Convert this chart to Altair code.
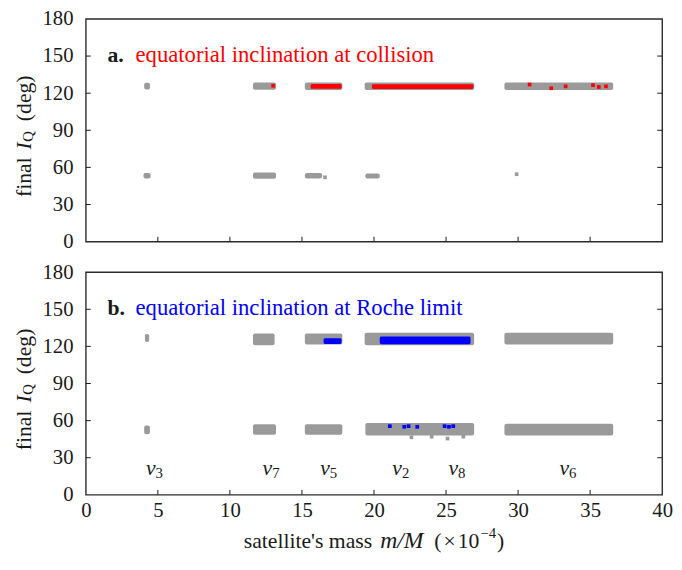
import altair as alt
import pandas as pd

W, H = 585, 226
FONT = "Liberation Serif"
GRAY = "#9a9a9a"
INK = "#1a1a1a"

# ---------------- axis ticks ----------------
x_ticks = [0, 5, 10, 15, 20, 25, 30, 35, 40]
y_ticks = [0, 30, 60, 90, 120, 150, 180]
x_inner_ticks = [5, 10, 15, 20, 25, 30, 35]
y_inner_ticks = [30, 60, 90, 120, 150]

# ---------------- panel a: inclination at collision ----------------
a_gray_x0 = [4.05, 11.6, 15.2, 19.35, 29.05, 4.0, 11.6, 15.2, 19.4]
a_gray_x1 = [4.45, 13.2, 17.8, 26.95, 36.6, 4.5, 13.2, 16.4, 20.4]
a_gray_y0 = [123.0, 122.8, 122.6, 122.6, 122.6, 51.0, 50.8, 51.0, 51.0]
a_gray_y1 = [128.5, 128.6, 128.7, 128.7, 128.7, 55.5, 55.8, 55.5, 55.0]
a_gray_dot_x = [16.6, 29.9]
a_gray_dot_y = [52.0, 54.5]
a_red_x0 = [15.6, 19.85]
a_red_x1 = [17.75, 26.9]
a_red_y0 = [123.5, 123.3]
a_red_y1 = [127.5, 127.3]
a_red_dot_x = [13.0, 30.8, 32.3, 33.3, 35.2, 35.6, 36.1]
a_red_dot_y = [126.0, 127.0, 124.0, 125.5, 126.5, 125.0, 125.5]

# ---------------- panel b: inclination at Roche limit ----------------
b_gray_x0 = [4.1, 11.6, 15.2, 19.35, 29.05, 4.05, 11.6, 15.2, 19.4, 29.05]
b_gray_x1 = [4.4, 13.1, 17.8, 26.95, 36.6, 4.45, 13.2, 17.8, 26.95, 36.6]
b_gray_y0 = [123.5, 121.0, 121.5, 121.0, 121.5, 49.0, 48.5, 48.5, 48.0, 48.0]
b_gray_y1 = [130.0, 130.5, 130.5, 131.0, 131.0, 56.0, 57.0, 57.0, 58.0, 57.5]
b_gray_dot_x = [22.6, 24.0, 25.1, 26.2]
b_gray_dot_y = [46.5, 47.0, 45.5, 47.0]
b_blue_x0 = [16.5, 20.4]
b_blue_x1 = [17.75, 26.7]
b_blue_y0 = [122.0, 121.8]
b_blue_y1 = [126.5, 128.0]
b_blue_dot_x = [21.1, 22.1, 22.4, 23.0, 24.9, 25.2, 25.5]
b_blue_dot_y = [55.5, 55.0, 55.5, 55.0, 55.5, 55.0, 55.5]

# ---------------- annotations ----------------
nu_x = [4.7, 12.8, 16.8, 21.8, 25.7, 33.4]
nu_sub = ["3", "7", "5", "2", "8", "6"]
nu_y = [22, 22, 22, 22, 22, 22]
tag_x = [1.5, 3.45]
tag_y = [151, 151]
panel_tags = ["a.", "b."]
panel_captions = ["equatorial inclination at collision",
                  "equatorial inclination at Roche limit"]
panel_colors = ["#ff0000", "#0000ff"]

# ---------------- text width helper (Times metrics) ----------------
ROMAN = {" ": 250, "a": 444, "b": 500, "c": 444, "d": 500, "e": 444, "f": 333,
         "g": 500, "h": 500, "i": 278, "l": 278, "m": 778, "n": 500, "o": 500,
         "q": 500, "r": 333, "s": 389, "t": 278, "u": 500, "(": 333, ")": 333,
         "'": 180, "×": 564, "−": 564, "Q": 722, ".": 250}
for d in "0123456789":
    ROMAN[d] = 500
ITALIC = {"m": 722, "/": 278, "M": 833, "I": 333}


def tw(s, size, italic=False):
    tab = ITALIC if italic else ROMAN
    return sum(tab.get(ch, ROMAN.get(ch, 500)) for ch in s) * size / 1000.0


XS = alt.Scale(domain=[0, 40], nice=False, zero=False)
YS = alt.Scale(domain=[0, 180], nice=False, zero=False)


def y_axis():
    return alt.Axis(values=y_ticks, title=None, ticks=False, domain=False, grid=False,
                    labelFont=FONT, labelFontSize=21, labelColor=INK, labelPadding=13)


def x_axis(show):
    if show:
        return alt.Axis(values=x_ticks, title=None, ticks=False, domain=False, grid=False,
                        labelFont=FONT, labelFontSize=21, labelColor=INK, labelPadding=5,
                        labelFlush=False, format="d")
    return alt.Axis(values=x_ticks, labels=False, ticks=False, domain=False, grid=False,
                    title=None)


def text_piece(txt, x, y, size, italic=False, angle=0, align="left", baseline="middle"):
    kw = dict(align=align, baseline=baseline, font=FONT, fontSize=size, color=INK)
    if italic:
        kw["fontStyle"] = "italic"
    if angle:
        kw["angle"] = angle
    return alt.Chart(pd.DataFrame({"t": [txt]})).mark_text(**kw).encode(
        x=alt.value(x), y=alt.value(y), text="t:N")


def y_title_layers():
    # reading bottom-to-top, angle 270
    pieces = [("final", 22, False, 0, 0), ("I", 22, True, 0, 8), ("Q", 15, False, 4, 0.5),
              ("(deg)", 22, False, 0, 10)]
    total = sum(tw(p[0], p[1], p[2]) + p[4] for p in pieces)
    y = H / 2 + 6 + total / 2
    out = []
    for txt, size, it, sx, gap in pieces:
        y -= gap
        out.append(text_piece(txt, -63 + sx, y, size, italic=it, angle=270))
        y -= tw(txt, size, it)
    return out


def x_title_layers():
    pieces = [("satellite's mass", 22, False, 0, 0), ("m/M", 24, True, 0, 8),
              ("(", 22, False, 0, 11), ("×", 22, False, 0, 2), ("10", 22, False, 0, 2),
              ("−4", 15, False, -8, 1), (")", 22, False, 0, 1)]
    total = sum(tw(p[0], p[1], p[2]) + p[4] for p in pieces)
    x = W / 2 - total / 2
    out = []
    for txt, size, it, sy, gap in pieces:
        x += gap
        out.append(text_piece(txt, x, H + 47 + sy, size, italic=it))
        x += tw(txt, size, it)
    return out


def panel(gx0, gx1, gy0, gy1, gdx, gdy, cx0, cx1, cy0, cy1, cdx, cdy, idx, bottom):
    color = panel_colors[idx]
    xa = x_axis(bottom)
    ya = y_axis()

    def X(f):
        return alt.X(f, scale=XS, axis=xa)

    def Y(f):
        return alt.Y(f, scale=YS, axis=ya)

    g = alt.Chart(pd.DataFrame({"x0": gx0, "x1": gx1, "y0": gy0, "y1": gy1})).mark_rect(
        color=GRAY, cornerRadius=2).encode(x=X("x0:Q"), x2="x1:Q", y=Y("y0:Q"), y2="y1:Q")
    gd = alt.Chart(pd.DataFrame({"x": gdx, "y": gdy})).mark_square(
        color=GRAY, size=14, opacity=1).encode(x=X("x:Q"), y=Y("y:Q"))
    c = alt.Chart(pd.DataFrame({"x0": cx0, "x1": cx1, "y0": cy0, "y1": cy1})).mark_rect(
        color=color, cornerRadius=1.5).encode(x=X("x0:Q"), x2="x1:Q", y=Y("y0:Q"), y2="y1:Q")
    cd = alt.Chart(pd.DataFrame({"x": cdx, "y": cdy})).mark_square(
        color=color, size=14, opacity=1).encode(x=X("x:Q"), y=Y("y:Q"))
    lt = alt.Chart(pd.DataFrame({"v": y_inner_ticks})).mark_rule(color=INK, strokeWidth=1).encode(
        y=Y("v:Q"), x=alt.value(0), x2=alt.value(5))
    rt = alt.Chart(pd.DataFrame({"v": y_inner_ticks})).mark_rule(color=INK, strokeWidth=1).encode(
        y=Y("v:Q"), x=alt.value(W - 5), x2=alt.value(W))
    bt = alt.Chart(pd.DataFrame({"v": x_inner_ticks})).mark_rule(color=INK, strokeWidth=1).encode(
        x=X("v:Q"), y=alt.value(H), y2=alt.value(H - 5))
    tag = alt.Chart(pd.DataFrame({"x": [tag_x[0]], "y": [tag_y[0]], "t": [panel_tags[idx]]})).mark_text(
        align="left", baseline="middle", font=FONT, fontSize=22, fontWeight="bold", color=INK).encode(
        x=X("x:Q"), y=Y("y:Q"), text="t:N")
    cap = alt.Chart(pd.DataFrame({"x": [tag_x[1]], "y": [tag_y[1]], "t": [panel_captions[idx]]})).mark_text(
        align="left", baseline="middle", font=FONT, fontSize=23, color=color).encode(
        x=X("x:Q"), y=Y("y:Q"), text="t:N")
    layers = [g, gd, c, cd, lt, rt, bt, tag, cap] + y_title_layers()
    if bottom:
        nu_df = pd.DataFrame({"x": nu_x, "y": nu_y, "s": nu_sub, "n": ["ν"] * len(nu_x)})
        nu = alt.Chart(nu_df).mark_text(
            align="right", baseline="middle", font=FONT, fontSize=22, fontStyle="italic",
            color=INK, dx=2).encode(x=X("x:Q"), y=Y("y:Q"), text="n:N")
        sub = alt.Chart(nu_df).mark_text(
            align="left", baseline="middle", font=FONT, fontSize=15, color=INK, dx=2, dy=6).encode(
            x=X("x:Q"), y=Y("y:Q"), text="s:N")
        layers += [nu, sub] + x_title_layers()
    return alt.layer(*layers).properties(width=W, height=H)


top = panel(a_gray_x0, a_gray_x1, a_gray_y0, a_gray_y1, a_gray_dot_x, a_gray_dot_y,
            a_red_x0, a_red_x1, a_red_y0, a_red_y1, a_red_dot_x, a_red_dot_y, 0, False)
bot = panel(b_gray_x0, b_gray_x1, b_gray_y0, b_gray_y1, b_gray_dot_x, b_gray_dot_y,
            b_blue_x0, b_blue_x1, b_blue_y0, b_blue_y1, b_blue_dot_x, b_blue_dot_y, 1, True)

chart = alt.vconcat(top, bot, spacing=31, bounds="flush").properties(
    padding={"left": 4, "top": -5, "right": 0, "bottom": 0},
    background="white",
).configure_view(stroke="#2a2a2a", strokeWidth=1.4)

chart.save("out.html", embed_options={"renderer": "svg", "actions": False})
